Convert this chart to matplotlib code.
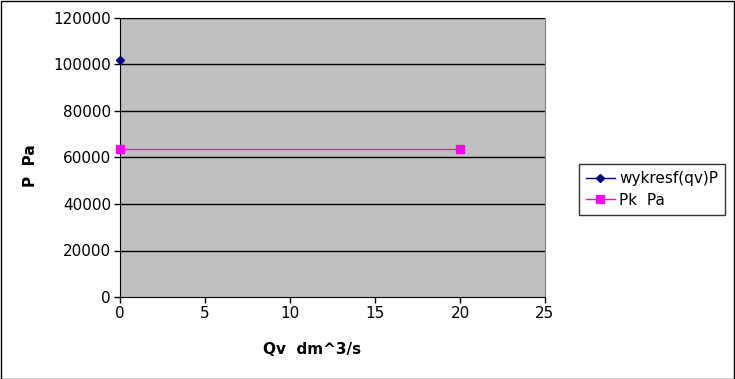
import matplotlib
matplotlib.use("Agg")
import matplotlib.pyplot as plt

plt.rcParams["font.family"] = ["DejaVu Sans"]

# data
qv_curve = [0]
p_curve = [102000]
qv_pk = [0, 20]
pk = [63800, 63800]

x_ticks = [0, 5, 10, 15, 20, 25]
y_ticks = [0, 20000, 40000, 60000, 80000, 100000, 120000]

W, H = 735, 379
fig = plt.figure(figsize=(W / 100, H / 100), dpi=100)
fig.patch.set_facecolor("white")

# plot area in pixel coords: x 120..545, y 18..297
ax = fig.add_axes([120 / W, (H - 297) / H, 425 / W, 279 / H])
ax.set_facecolor("#C0C0C0")

for y in y_ticks[1:]:
    ax.axhline(y, color="black", lw=1, zorder=1)

ax.plot(qv_curve, p_curve, color="#000080", marker="D", ms=4.5, lw=1,
        label="wykresf(qv)P", zorder=3, clip_on=False)
ax.plot(qv_pk, pk, color="#FF00FF", marker="s", ms=5.5, lw=1,
        label="Pk  Pa", zorder=3, clip_on=False)

ax.set_xlim(0, 25)
ax.set_ylim(0, 120000)
ax.set_xticks(x_ticks)
ax.set_yticks(y_ticks)
ax.tick_params(labelsize=11, length=4, width=1, pad=2.5,
               direction="out", colors="black")

ax.spines["top"].set_visible(False)
ax.spines["right"].set_color("#808080")
ax.spines["left"].set_color("black")
ax.spines["bottom"].set_color("black")

fig.text(312 / W, 1 - 349 / H, "Qv  dm^3/s", fontsize=11, fontweight="bold",
         ha="center", va="center")
fig.text(31 / W, 1 - 166 / H, "P  Pa", fontsize=11, fontweight="bold",
         rotation=90, ha="center", va="center")

leg = fig.legend(loc="upper left", bbox_to_anchor=(579 / W, 1 - 164 / H),
                 borderaxespad=0, fontsize=11, frameon=True, fancybox=False,
                 borderpad=0.45, handlelength=1.9, handletextpad=0.3,
                 labelspacing=0.45)
leg.get_frame().set_edgecolor("black")
leg.get_frame().set_linewidth(1)

# outer chart border
fig.add_artist(plt.Rectangle((0.5 / W, 0.5 / H), (W - 1.5) / W, (H - 1.5) / H,
                             transform=fig.transFigure, fill=False,
                             edgecolor="black", lw=1))

fig.savefig("out.png", dpi=100)
